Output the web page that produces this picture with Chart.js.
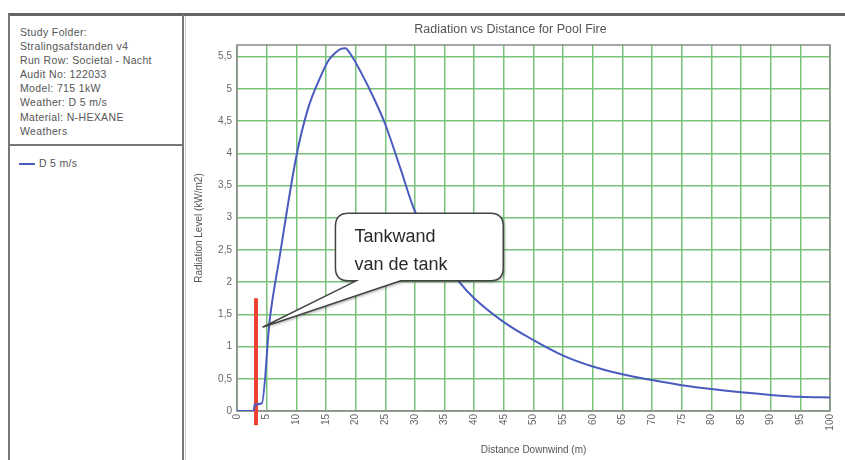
<!DOCTYPE html>
<html>
<head>
<meta charset="utf-8">
<script src="https://cdn.jsdelivr.net/npm/chart.js@4.4.1/dist/chart.umd.min.js"></script>
<style>
  body { margin: 0; background: #fff; width: 845px; height: 460px; overflow: hidden; position: relative; font-family: "Liberation Sans", Arial, sans-serif; }
  #frameTop { position: absolute; left: 8px; top: 13px; width: 837px; height: 3px; background: #666; }
  #panel { position: absolute; left: 8px; top: 14px; width: 172px; height: 460px; border-left: 2px solid #777; border-right: 2px solid #777; }
  #info { position: absolute; left: 10px; top: 11px; font-size: 10.5px; letter-spacing: 0.35px; line-height: 14.1px; color: #555; }
  #divider { position: absolute; left: 0; top: 130px; width: 172px; height: 2px; background: #777; }
  #legend { position: absolute; left: 9px; top: 143px; font-size: 10.5px; letter-spacing: 0.3px; color: #555; }
  #legend span.sw { display: inline-block; width: 16px; height: 2px; background: #4a5bc0; vertical-align: middle; margin-right: 4px; }
  #inner { position: absolute; left: 185px; top: 16px; width: 1px; height: 444px; background: #ccc; }
  #wrap { position: absolute; left: 183px; top: 15px; }
</style>
</head>
<body>
<div id="frameTop"></div>
<div id="panel">
  <div id="info">
    Study Folder:<br>
    Stralingsafstanden v4<br>
    Run Row: Societal - Nacht<br>
    Audit No: 122033<br>
    Model: 715 1kW<br>
    Weather: D 5 m/s<br>
    Material: N-HEXANE<br>
    Weathers
  </div>
  <div id="divider"></div>
  <div id="legend"><span class="sw"></span>D 5 m/s</div>
</div>
<div id="inner"></div>
<div id="wrap"><canvas id="grafico" width="662" height="445"></canvas></div>
<script>
// distance downwind (m) and radiation level (kW/m2)
const distance = [0, 2.8, 3.0, 4.2, 5.5, 7.2, 10, 12, 14, 15.5, 16.6, 17.5, 18.3, 19, 21, 23.2, 25, 27.5, 30, 32.5, 35, 37.5, 40, 45, 50, 55, 60, 65, 70, 75, 80, 85, 90, 95, 100];
const radiation = [0, 0, 0.1, 0.12, 1.4, 2.4, 3.95, 4.7, 5.17, 5.45, 5.56, 5.62, 5.63, 5.56, 5.24, 4.83, 4.45, 3.78, 3.1, 2.68, 2.33, 2.0, 1.75, 1.38, 1.1, 0.86, 0.69, 0.57, 0.48, 0.4, 0.34, 0.29, 0.25, 0.22, 0.21];

// tank wall marker
const wallX = [3.2, 3.2];
const wallY = [-0.22, 1.75];

// callout, in data units: box [left, top, right, bottom], tail base x's, tail tip
const calloutLines = ['Tankwand', 'van de tank'];
const calloutBox = [16.6, 3.07, 44.9, 2.02];
const calloutTailBase = [20.1, 27.6];
const calloutTip = [4.3, 1.3];

const fontFam = '"Liberation Sans", Arial, sans-serif';
const gridGreen = '#79c27a';

function decimalComma(v) {
    return String(Math.round(v * 10) / 10).replace('.', ',');
}

const plotFrame = {
    id: 'plotFrame',
    beforeDatasetsDraw(chart) {
        const {ctx, chartArea: a} = chart;
        ctx.save();
        ctx.strokeStyle = '#8a8a8a';
        ctx.lineWidth = 1.5;
        ctx.strokeRect(a.left, a.top, a.right - a.left, a.bottom - a.top);
        ctx.restore();
    }
};

const callout = {
    id: 'callout',
    afterDatasetsDraw(chart) {
        const {ctx} = chart;
        const xs = chart.scales.x, ys = chart.scales.y;
        const l = xs.getPixelForValue(calloutBox[0]);
        const t = ys.getPixelForValue(calloutBox[1]);
        const r = xs.getPixelForValue(calloutBox[2]);
        const b = ys.getPixelForValue(calloutBox[3]);
        const b1 = xs.getPixelForValue(calloutTailBase[0]);
        const b2 = xs.getPixelForValue(calloutTailBase[1]);
        const tx = xs.getPixelForValue(calloutTip[0]);
        const ty = ys.getPixelForValue(calloutTip[1]);
        const rad = 13;
        ctx.save();
        ctx.beginPath();
        ctx.moveTo(l + rad, t);
        ctx.lineTo(r - rad, t);
        ctx.quadraticCurveTo(r, t, r, t + rad);
        ctx.lineTo(r, b - rad);
        ctx.quadraticCurveTo(r, b, r - rad, b);
        ctx.lineTo(b2, b);
        ctx.lineTo(tx, ty);
        ctx.lineTo(b1, b);
        ctx.lineTo(l + rad, b);
        ctx.quadraticCurveTo(l, b, l, b - rad);
        ctx.lineTo(l, t + rad);
        ctx.quadraticCurveTo(l, t, l + rad, t);
        ctx.closePath();
        ctx.shadowColor = 'rgba(0,0,0,0.35)';
        ctx.shadowBlur = 3;
        ctx.shadowOffsetX = 1.5;
        ctx.shadowOffsetY = 1.5;
        ctx.fillStyle = '#fff';
        ctx.fill();
        ctx.shadowColor = 'transparent';
        ctx.strokeStyle = '#444';
        ctx.lineWidth = 1.5;
        ctx.stroke();
        ctx.fillStyle = '#2a2a2a';
        ctx.font = '18px ' + fontFam;
        ctx.textBaseline = 'middle';
        ctx.fillText(calloutLines[0], l + 19, t + 24);
        ctx.fillText(calloutLines[1], l + 19, t + 52);
        ctx.restore();
    }
};

const ctx = document.getElementById('grafico').getContext('2d');
new Chart(ctx, {
    type: 'line',
    data: {
        datasets: [{
            label: 'D 5 m/s',
            data: distance.map((d, i) => ({x: d, y: radiation[i]})),
            borderColor: '#4a5bc0',
            borderWidth: 2,
            pointRadius: 0,
            cubicInterpolationMode: 'monotone'
        }, {
            label: 'wall',
            data: wallX.map((d, i) => ({x: d, y: wallY[i]})),
            borderColor: '#ec4234',
            borderWidth: 4,
            pointRadius: 0,
            clip: false
        }]
    },
    options: {
        responsive: false,
        animation: false,
        layout: { padding: { left: 0, right: 7, top: 0, bottom: 0 } },
        plugins: {
            legend: { display: false },
            tooltip: { enabled: false },
            title: {
                display: true,
                text: 'Radiation vs Distance for Pool Fire',
                color: '#555',
                font: { family: fontFam, size: 12.5, weight: 'normal' },
                padding: { top: 7, bottom: 8 }
            }
        },
        scales: {
            x: {
                type: 'linear',
                min: 0,
                max: 100,
                afterFit(scale) { scale.height = 49; },
                ticks: {
                    stepSize: 5,
                    minRotation: 90,
                    maxRotation: 90,
                    padding: 3,
                    color: '#666',
                    font: { family: fontFam, size: 10 }
                },
                grid: { color: gridGreen, lineWidth: 1.5, drawTicks: false },
                border: { display: false },
                title: {
                    display: true,
                    text: 'Distance Downwind (m)',
                    color: '#555',
                    font: { family: fontFam, size: 10 },
                    padding: { top: 0, bottom: 4 }
                }
            },
            y: {
                min: 0,
                max: 5.68,
                afterFit(scale) { scale.width = 54; },
                ticks: {
                    stepSize: 0.5,
                    includeBounds: false,
                    padding: 5,
                    color: '#666',
                    font: { family: fontFam, size: 10 },
                    callback: v => decimalComma(v)
                },
                grid: { color: gridGreen, lineWidth: 1.5, drawTicks: false },
                border: { display: false },
                title: {
                    display: true,
                    text: 'Radiation Level (kW/m2)',
                    color: '#555',
                    font: { family: fontFam, size: 10 },
                    padding: { top: 10, bottom: 0 }
                }
            }
        }
    },
    plugins: [plotFrame, callout]
});
</script>
</body>
</html>
